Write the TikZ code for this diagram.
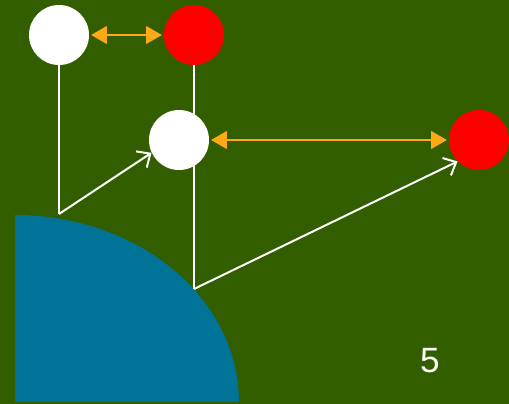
\documentclass[tikz,border=0pt]{standalone}
\usepackage{fontspec}
\setsansfont{Liberation Sans}
\usetikzlibrary{arrows.meta}

\definecolor{fieldgreen}{RGB}{50,94,0}
\definecolor{discblue}{RGB}{0,115,150}
\definecolor{linkorange}{RGB}{255,170,20}

\tikzset{
	ball/.style={circle, minimum size=1.2cm, inner sep=0pt},
	whiteball/.style={ball, fill=white},
	redball/.style={ball, fill=red},
	stem/.style={white, line width=0.04cm},
	push/.style={white, line width=0.04cm, -{Straight Barb[length=6pt,width=11pt]}},
	link/.style={linkorange, line width=0.05cm, {Triangle[length=9pt,width=10pt]}-{Triangle[length=9pt,width=10pt]}, shorten <=1pt, shorten >=1pt}
}

\begin{document}
\begin{tikzpicture}
	\fill[fieldgreen] (0,0) rectangle (10.18,8.08);
	\useasboundingbox (0,0) rectangle (10.18,8.08);
	
	% quarter disc
	\fill[discblue] (0.30,0.04) -- (0.30,3.78) arc (90:0:4.48cm and 3.74cm) -- cycle;
	
	\coordinate (foot1) at (1.18,3.80);
	\coordinate (foot2) at (3.88,2.30);
	
	\node[whiteball] (w1) at (1.18,7.38) {};
	\node[redball] (r1) at (3.88,7.38) {};
	
	\draw[stem] (w1.south) -- (foot1);
	\draw[stem] (r1.south) -- (foot2);
	
	\node[whiteball] (w2) at (3.58,5.28) {};
	\node[redball] (r2) at (9.58,5.28) {};
	
	\draw[push] (foot1) -- (w2.205);
	\draw[push] (foot2) -- (r2.225);
	
	\draw[link] (w1) -- (r1);
	\draw[link] (w2) -- (r2);
	
	\node[white, font=\sffamily\fontsize{20}{24}\selectfont] (num) at (8.60,0.86) {5};
\end{tikzpicture}
\end{document}
